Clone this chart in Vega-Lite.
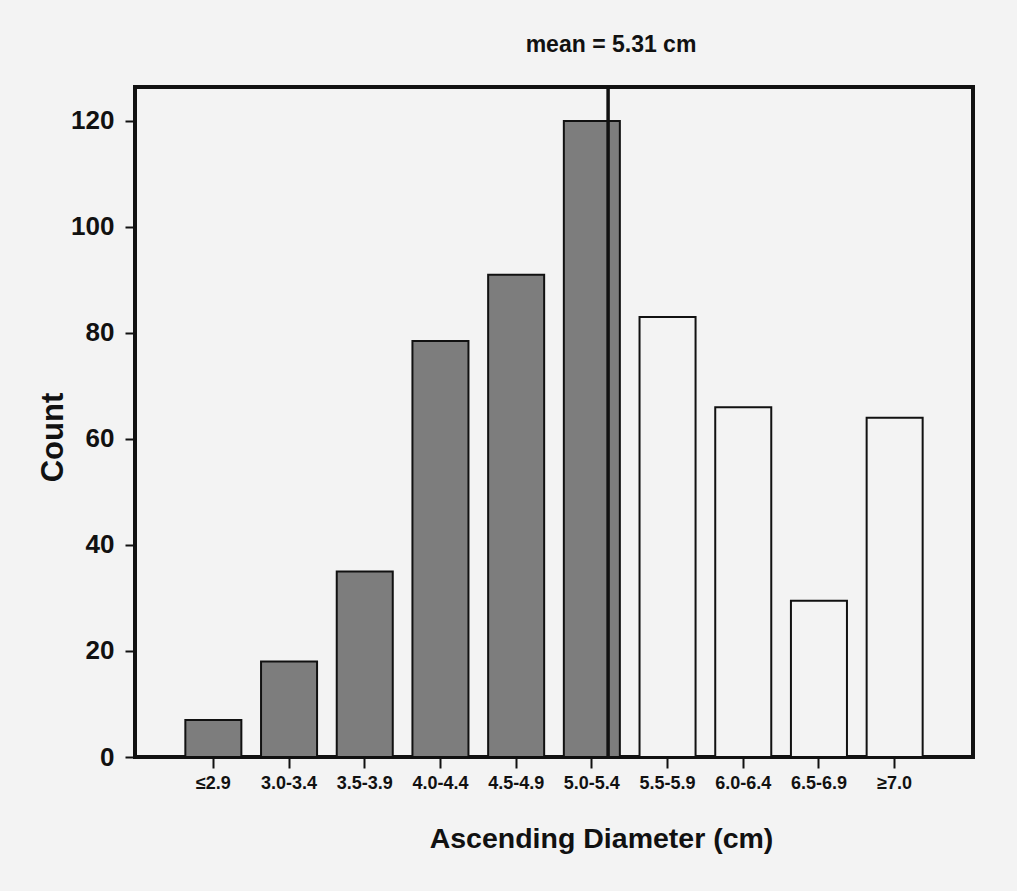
{
  "$schema": "https://vega.github.io/schema/vega-lite/v6.json",
  "width": 838,
  "height": 670,
  "autosize": {"type": "none"},
  "padding": {"left": 135, "top": 87, "right": 44, "bottom": 134},
  "background": "#f3f3f3",
  "title": {
    "text": "mean = 5.31 cm",
    "anchor": "middle",
    "dx": 57,
    "offset": 10,
    "baseline": "alphabetic",
    "font": "Liberation Sans",
    "fontSize": 23,
    "fontWeight": "bold",
    "color": "#111111"
  },
  "datasets": {
    "bars": [
      {"range": "≤2.9", "count": 7, "group": "below"},
      {"range": "3.0-3.4", "count": 18, "group": "below"},
      {"range": "3.5-3.9", "count": 35, "group": "below"},
      {"range": "4.0-4.4", "count": 78.5, "group": "below"},
      {"range": "4.5-4.9", "count": 91, "group": "below"},
      {"range": "5.0-5.4", "count": 120, "group": "below"},
      {"range": "5.5-5.9", "count": 83, "group": "above"},
      {"range": "6.0-6.4", "count": 66, "group": "above"},
      {"range": "6.5-6.9", "count": 29.5, "group": "above"},
      {"range": "≥7.0", "count": 64, "group": "above"}
    ],
    "mean": [{"range": "5.0-5.4", "mean": 5.31}]
  },
  "layer": [
    {
      "data": {"name": "bars"},
      "mark": {"type": "bar", "stroke": "#111111", "strokeWidth": 2},
      "encoding": {
        "x": {
          "field": "range",
          "type": "nominal",
          "sort": null,
          "scale": {
            "domain": ["≤2.9", "3.0-3.4", "3.5-3.9", "4.0-4.4", "4.5-4.9", "5.0-5.4", "5.5-5.9", "6.0-6.4", "6.5-6.9", "≥7.0"],
            "paddingInner": 0.26,
            "paddingOuter": 0.665
          },
          "axis": {
            "title": "Ascending Diameter (cm)",
            "labelAngle": 0,
            "domain": false,
            "tickSize": 11,
            "tickWidth": 2,
            "tickColor": "#111111",
            "labelFont": "Liberation Sans",
            "labelFontSize": 18,
            "labelFontWeight": "bold",
            "labelColor": "#111111",
            "labelPadding": 6,
            "titleFont": "Liberation Sans",
            "titleFontSize": 28.5,
            "titleFontWeight": "bold",
            "titleColor": "#111111",
            "titleX": 466,
            "titleY": 90,
            "titleAlign": "center",
            "titleBaseline": "alphabetic"
          }
        },
        "y": {
          "field": "count",
          "type": "quantitative",
          "scale": {"domain": [0, 126.4], "nice": false},
          "axis": {
            "title": "Count",
            "values": [0, 20, 40, 60, 80, 100, 120],
            "grid": false,
            "domain": false,
            "tickSize": 10,
            "tickWidth": 2,
            "tickColor": "#111111",
            "labelFont": "Liberation Sans",
            "labelFontSize": 26,
            "labelFontWeight": "bold",
            "labelColor": "#111111",
            "labelPadding": 11,
            "titleFont": "Liberation Sans",
            "titleFontSize": 31,
            "titleFontWeight": "bold",
            "titleColor": "#111111",
            "titleX": -73,
            "titleY": 350,
            "titleAngle": -90,
            "titleAlign": "center",
            "titleBaseline": "alphabetic"
          }
        },
        "fill": {
          "field": "group",
          "type": "nominal",
          "scale": {"domain": ["below", "above"], "range": ["#7d7d7d", "#f3f3f3"]},
          "legend": null
        }
      }
    },
    {
      "data": {"name": "mean"},
      "mark": {"type": "rule", "stroke": "#111111", "strokeWidth": 3.5},
      "encoding": {
        "x": {"field": "range", "type": "nominal", "bandPosition": 0.79}
      }
    }
  ],
  "config": {
    "view": {"stroke": "#111111", "strokeWidth": 4, "fill": null},
    "axis": {"grid": false}
  }
}
